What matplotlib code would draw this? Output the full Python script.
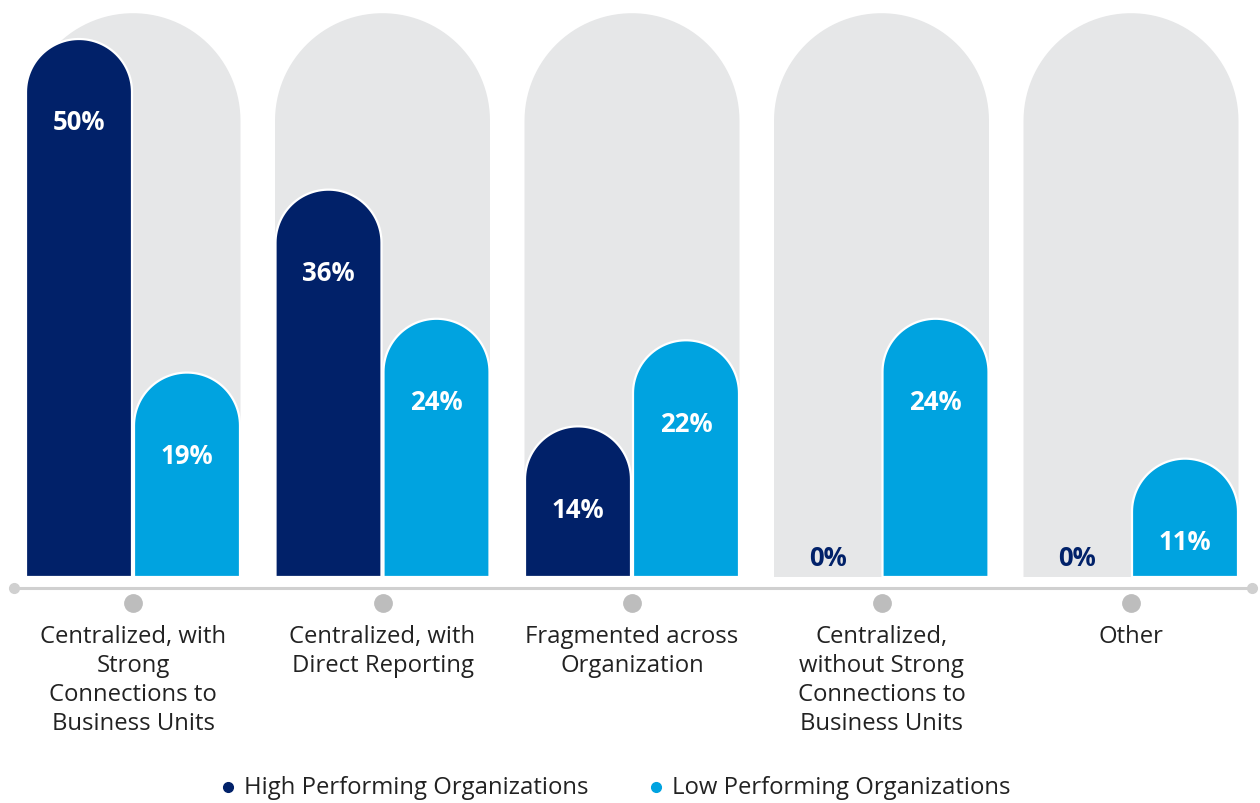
import numpy as np
import matplotlib.pyplot as plt
from matplotlib.patches import Polygon

plt.rcParams['font.family'] = ['Open Sans', 'DejaVu Sans']

categories = ["Centralized, with\nStrong\nConnections to\nBusiness Units",
              "Centralized, with\nDirect Reporting",
              "Fragmented across\nOrganization",
              "Centralized,\nwithout Strong\nConnections to\nBusiness Units",
              "Other"]
high_perf = [50, 36, 14, 0, 0]
low_perf = [19, 24, 22, 24, 11]
series_names = ["High Performing Organizations", "Low Performing Organizations"]
bg_level = 52.4

DARK = '#012169'
LIGHT = '#00A3E0'
BG = '#E6E7E8'
GREY = '#BDBDBD'

W, H = 1260, 804
fig = plt.figure(figsize=(W / 100, H / 100), dpi=100)
ax = fig.add_axes([0, 0, 1, 1])
# 1 x unit = 249.5 px, 1 % = 10.76 px
px_x, px_y = 249.5, 10.76
ax.set_xlim(-133 / px_x, (W - 133) / px_x)
ax.set_ylim(-(H - 578) / px_y, 578 / px_y)
ax.axis('off')


def rounded_bar(xc, w, h, color, z, edge='white'):
    rx = w / 2
    ry = rx * px_x / px_y
    t = np.linspace(np.pi, 0, 60)
    top = np.column_stack([xc + rx * np.cos(t), h - ry + ry * np.sin(t)])
    pts = np.vstack([[xc - rx, 0], top, [xc + rx, 0]])
    ax.add_patch(Polygon(pts, closed=True, facecolor=color, edgecolor=edge,
                         linewidth=1.6, zorder=z))


bw = 106 / px_x
off = 54 / px_x
label_drop = 83 / px_y
for i, cat in enumerate(categories):
    rounded_bar(i, 215 / px_x, bg_level, BG, 1, edge='none')
    for val, dx, col in [(high_perf[i], -off, DARK), (low_perf[i], off, LIGHT)]:
        if val > 0:
            rounded_bar(i + dx, bw, val, col, 2)
            ax.text(i + dx, val - label_drop, f"{val}%", color='white',
                    fontsize=18.5, fontweight='bold', ha='center', va='center', zorder=3)
        else:
            ax.text(i + dx, 19 / px_y, f"{val}%", color=DARK,
                    fontsize=18.5, fontweight='bold', ha='center', va='center', zorder=3)
    ax.plot(i, -26 / px_y, 'o', color=GREY, markersize=12.5, zorder=3)
    ax.text(i, -47 / px_y, cat, ha='center', va='top', fontsize=17.2,
            color='#222222', linespacing=1.28)

# axis line with end dots
x0, x1 = (14 - 133) / px_x, (1252 - 133) / px_x
ax.plot([x0, x1], [-11 / px_y, -11 / px_y], color='#D0D0D0', lw=2.2, zorder=2)
ax.plot([x0, x1], [-11 / px_y, -11 / px_y], 'o', color='#D0D0D0', markersize=7, zorder=2)

# legend at the bottom edge
ly = -(788 - 578) / px_y
for lx, col, name in [((228 - 133) / px_x, DARK, series_names[0]),
                      ((656 - 133) / px_x, LIGHT, series_names[1])]:
    ax.plot(lx, ly, 'o', color=col, markersize=7, clip_on=False)
    ax.text(lx + 16 / px_x, ly, name, fontsize=17.2, color='#222222',
            va='center', ha='left')

fig.savefig('out.png', dpi=100)
